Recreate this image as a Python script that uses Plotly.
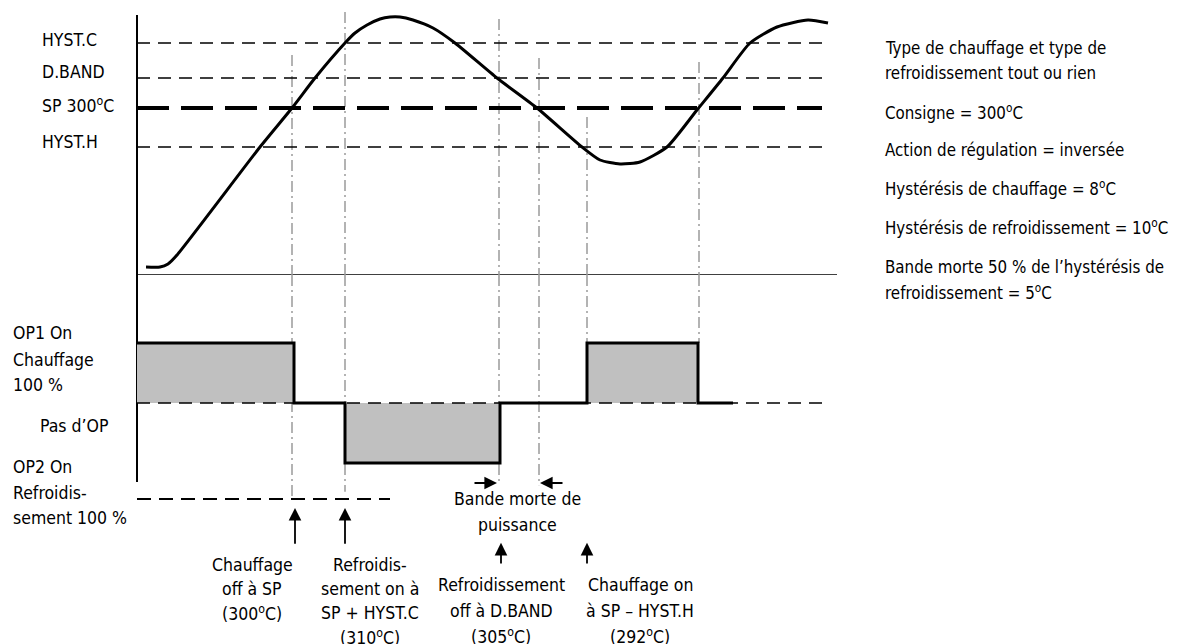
import plotly.graph_objects as go

W, H = 1186, 644
OFF = 8  # page body margin, the figure sits 8px in from the window corner
FONT = "DejaVu Sans Condensed, DejaVu Sans"
GREY_FILL = "#c0c0c0"
GREY_LINE = "#9a9a9a"

# temperature curve: time (from the left axis) vs schematic temperature units
temp_t = [9, 23, 31, 40, 123, 155, 178, 208, 218, 230, 243, 253, 263, 276, 296,
          318, 360, 400, 445, 463, 483, 503, 530, 560, 586, 613, 640, 671, 691]
temp_y = [8, 8, 11, 20, 128, 167, 197, 232, 242, 250, 256, 258, 258, 255, 247,
          232, 197, 167, 128, 115, 111, 113, 128, 165, 197, 232, 248, 255, 252]

level_labels = ["HYST.C", "D.BAND", "SP 300<sup>o</sup>C", "HYST.H"]
level_values = [232, 197, 167, 128]
level_end = 685

# output state (%): OP1 heating +100, none 0, OP2 cooling -100
out_t = [0, 157, 208, 363, 450, 561, 596]
out_pct = [100, 0, -100, 0, 100, 0, 0]

# switching instants (dash-dot markers)
switch_t = [155, 208, 362, 402, 450, 562]
switch_top = [220, 263, 256, 217, 158, 213]
switch_bottom = [-157, -148, -133, -137, 100, 100]

DASHDOT = "11px,4px,2px,4px"

fig = go.Figure()

# axes drawn as lines
fig.add_trace(go.Scatter(x=[0, 0], y=[0, 260], mode="lines",
                         line=dict(color="black", width=2), yaxis="y"))
fig.add_trace(go.Scatter(x=[0, 0], y=[213.3, -131.7], mode="lines",
                         line=dict(color="black", width=2), yaxis="y2"))
fig.add_trace(go.Scatter(x=[0, 700], y=[0, 0], mode="lines",
                         line=dict(color="black", width=1.5), yaxis="y"))

# switching markers
for t, top, bot in zip(switch_t, switch_top, switch_bottom):
    fig.add_trace(go.Scatter(x=[t, t], y=[top, 0], mode="lines", yaxis="y",
                             line=dict(color=GREY_LINE, width=1.5, dash=DASHDOT)))
    fig.add_trace(go.Scatter(x=[t, t], y=[213.3, bot], mode="lines", yaxis="y2",
                             line=dict(color=GREY_LINE, width=1.5, dash=DASHDOT)))

# temperature levels
for lab, val in zip(level_labels, level_values):
    sp = lab.startswith("SP")
    fig.add_trace(go.Scatter(
        x=[0, level_end], y=[val, val], mode="lines", yaxis="y",
        line=dict(color="black", width=4 if sp else 1.5,
                  dash="32px,12px" if sp else "13px,8px"),
    ))

fig.add_trace(go.Scatter(x=temp_t, y=temp_y, mode="lines", yaxis="y",
                         line=dict(color="black", width=3, shape="spline", smoothing=0.6)))

# output: filled area, dashed reference lines, then the step outline
fig.add_trace(go.Scatter(x=out_t, y=out_pct, mode="lines", yaxis="y2",
                         line=dict(width=0, shape="hv"), fill="tozeroy",
                         fillcolor=GREY_FILL))
fig.add_trace(go.Scatter(x=[0, 693], y=[0, 0], mode="lines", yaxis="y2",
                         line=dict(color="black", width=1.5, dash="13px,8px")))
fig.add_trace(go.Scatter(x=[0, 253], y=[-160, -160], mode="lines", yaxis="y2",
                         line=dict(color="black", width=2, dash="14px,8px")))
fig.add_trace(go.Scatter(x=out_t, y=out_pct, mode="lines", yaxis="y2",
                         line=dict(color="black", width=3, shape="hv")))

annotations = []


def note(text, px, py, anchor="center", size=17.5):
    annotations.append(dict(text=text, x=(px - OFF) / W, y=1 - (py - OFF) / H,
                            xref="paper", yref="paper",
                            xanchor=anchor, yanchor="middle", showarrow=False,
                            font=dict(family=FONT, size=size, color="black")))


def arrow(x, y, ax, ay):
    annotations.append(dict(text="", x=x, y=y, ax=ax, ay=ay, xref="x", yref="y2",
                            axref="x", ayref="y2", showarrow=True, arrowhead=2,
                            arrowsize=1.4, arrowwidth=1.8, arrowcolor="black", standoff=0))


note("HYST.C", 40, 40, "left")
note("D.BAND", 40, 72, "left")
note("SP 300<sup>o</sup>C", 40, 105, "left")
note("HYST.H", 40, 142, "left")
note("OP1 On", 11, 333, "left")
note("Chauffage", 11, 360, "left")
note("100 %", 11, 385, "left")
note("Pas d’OP", 38, 426, "left")
note("OP2 On", 11, 467, "left")
note("Refroidis-", 11, 493, "left")
note("sement 100 %", 11, 518, "left")

for i, s in enumerate(["Chauffage", "off à SP", "(300<sup>o</sup>C)"]):
    note(s, 252, 565 + 24 * i)
for i, s in enumerate(["Refroidis-", "sement on à", "SP + HYST.C", "(310<sup>o</sup>C)"]):
    note(s, 370, 565 + 24 * i)
for i, s in enumerate(["Bande morte de", "puissance"]):
    note(s, 517, 499 + 26 * i)
for i, s in enumerate(["Refroidissement", "off à D.BAND", "(305<sup>o</sup>C)"]):
    note(s, 501, 585 + 25.5 * i)
for i, s in enumerate(["Chauffage on", "à SP – HYST.H", "(292<sup>o</sup>C)"]):
    note(s, 640, 585 + 25.5 * i)

right_lines = [
    ("Type de chauffage et type de", 48),
    ("refroidissement tout ou rien", 73),
    ("Consigne = 300<sup>o</sup>C", 112),
    ("Action de régulation = inversée", 150),
    ("Hystérésis de chauffage = 8<sup>o</sup>C", 188),
    ("Hystérésis de refroidissement = 10<sup>o</sup>C", 227),
    ("Bande morte 50 % de l’hystérésis de", 267),
    ("refroidissement = 5<sup>o</sup>C", 292),
]
for s, py in right_lines:
    note(s, 883, py, "left", size=16.8)

arrow(158, -175, 158, -237)
arrow(208, -175, 208, -237)
arrow(364, -233, 364, -270)
arrow(450, -233, 450, -270)
arrow(360, -133.3, 336, -133.3)
arrow(403, -133.3, 427, -133.3)

# pixel rows of the reference, shifted by the page margin
axis_px = 137 - OFF
split_py = 275 - OFF
top_py = 10 - OFF

fig.update_layout(
    width=W, height=H, autosize=False,
    margin=dict(l=0, r=0, t=0, b=0),
    paper_bgcolor="white", plot_bgcolor="white",
    showlegend=False,
    xaxis=dict(range=[-axis_px, W - axis_px], visible=False),
    yaxis=dict(domain=[(H - split_py) / H, (H - top_py) / H], range=[0, 265], visible=False),
    # lower axis: 0.6 px per percent, zero at reference row 403
    yaxis2=dict(domain=[0, (H - split_py) / H],
                range=[(403 - (H + OFF)) / 0.6, (403 - 275) / 0.6],
                visible=False, anchor="x"),
    annotations=annotations,
)

fig.write_html("out.html")
